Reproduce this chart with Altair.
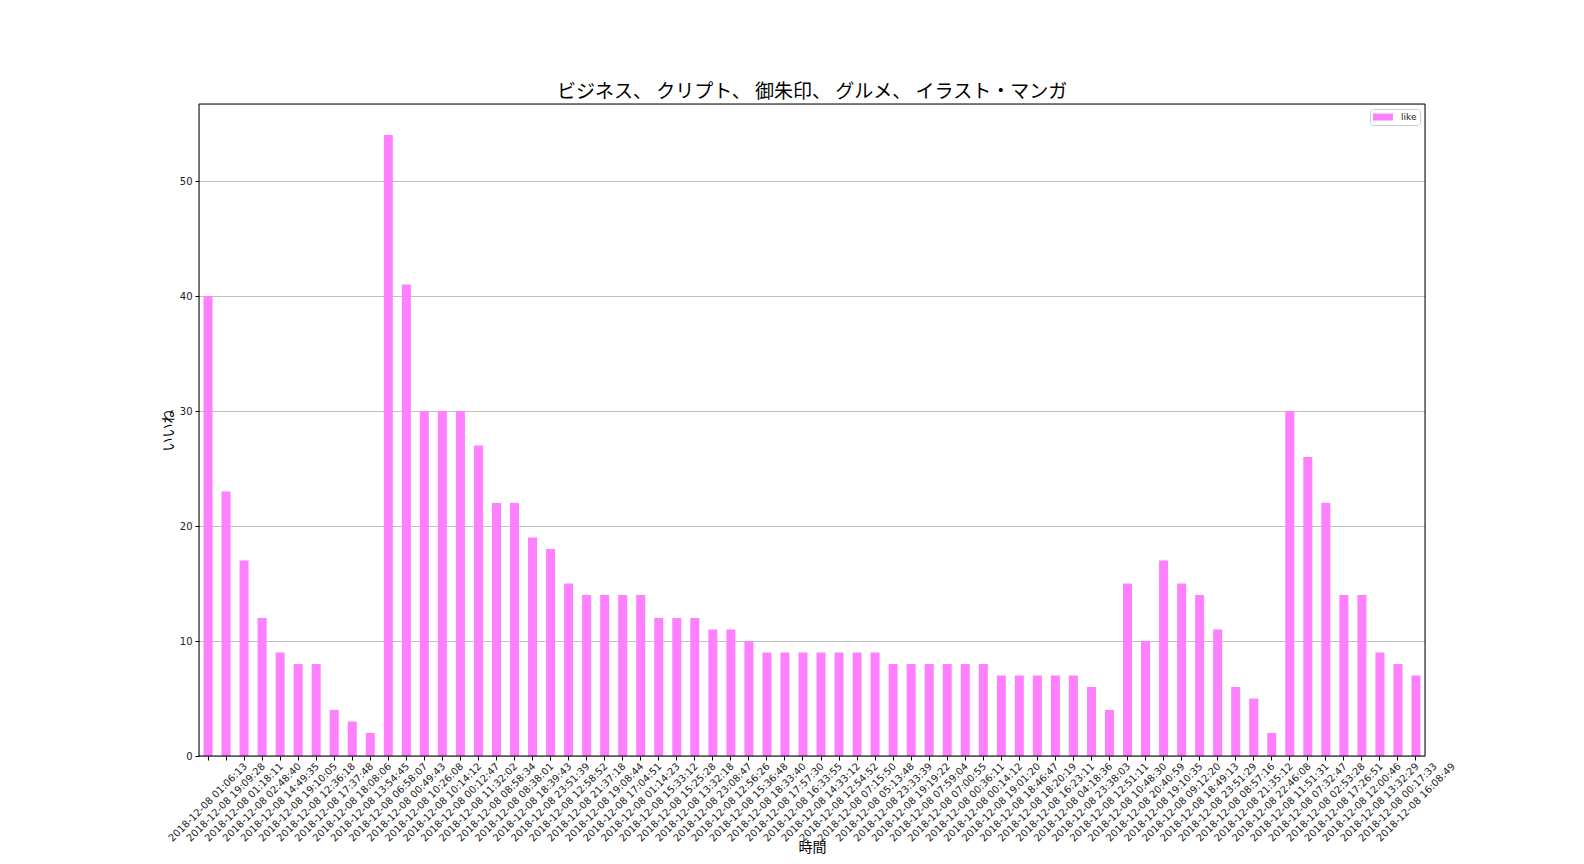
import altair as alt
import pandas as pd

times = [
    "2018-12-08 01:06:13", "2018-12-08 19:09:28", "2018-12-08 01:18:11", "2018-12-08 02:48:40",
    "2018-12-08 14:49:35", "2018-12-08 19:10:05", "2018-12-08 12:36:18", "2018-12-08 17:37:48",
    "2018-12-08 18:08:06", "2018-12-08 13:54:45", "2018-12-08 06:58:07", "2018-12-08 00:49:43",
    "2018-12-08 10:26:08", "2018-12-08 10:14:12", "2018-12-08 00:12:47", "2018-12-08 11:32:02",
    "2018-12-08 08:58:34", "2018-12-08 08:38:01", "2018-12-08 18:39:43", "2018-12-08 23:51:39",
    "2018-12-08 12:58:52", "2018-12-08 21:37:18", "2018-12-08 19:08:44", "2018-12-08 17:04:51",
    "2018-12-08 01:14:23", "2018-12-08 15:33:12", "2018-12-08 15:25:28", "2018-12-08 13:32:18",
    "2018-12-08 23:08:47", "2018-12-08 12:56:26", "2018-12-08 15:36:48", "2018-12-08 18:33:40",
    "2018-12-08 17:57:30", "2018-12-08 16:33:55", "2018-12-08 14:33:12", "2018-12-08 12:54:52",
    "2018-12-08 07:15:50", "2018-12-08 05:13:48", "2018-12-08 23:33:39", "2018-12-08 19:19:22",
    "2018-12-08 07:59:04", "2018-12-08 07:00:55", "2018-12-08 00:36:11", "2018-12-08 00:14:12",
    "2018-12-08 19:01:20", "2018-12-08 18:46:47", "2018-12-08 18:20:19", "2018-12-08 16:23:11",
    "2018-12-08 04:18:36", "2018-12-08 23:38:03", "2018-12-08 12:51:11", "2018-12-08 10:48:30",
    "2018-12-08 20:40:59", "2018-12-08 19:10:35", "2018-12-08 09:12:20", "2018-12-08 18:49:13",
    "2018-12-08 23:51:29", "2018-12-08 08:57:16", "2018-12-08 21:35:12", "2018-12-08 22:46:08",
    "2018-12-08 11:51:31", "2018-12-08 07:32:47", "2018-12-08 02:53:28", "2018-12-08 17:26:51",
    "2018-12-08 12:00:46", "2018-12-08 13:32:29", "2018-12-08 00:17:33", "2018-12-08 16:08:49",
]

likes = [
    40, 23, 17, 12, 9, 8, 8, 4, 3, 2,
    54, 41, 30, 30, 30, 27, 22, 22, 19, 18,
    15, 14, 14, 14, 14, 12, 12, 12, 11, 11,
    10, 9, 9, 9, 9, 9, 9, 9, 8, 8,
    8, 8, 8, 8, 7, 7, 7, 7, 7, 6,
    4, 15, 10, 17, 15, 14, 11, 6, 5, 2,
    30, 26, 22, 14, 14, 9, 8, 7,
]

series_name = "like"
title_text = "ビジネス、 クリプト、 御朱印、 グルメ、 イラスト・マンガ"
x_title = "時間"
y_title = "いいね"
y_ticks = [0, 10, 20, 30, 40, 50]

df = pd.DataFrame({"time": times, "like": likes, "series": [series_name] * len(times)})
frame_df = pd.DataFrame({"frame": [0]})

JP = "Noto Sans CJK JP"
LAT = "DejaVu Sans"
W, H = 1226, 652

bars = (
    alt.Chart(df)
    .mark_bar(color="#ff80ff")
    .encode(
        x=alt.X(
            "time:N",
            sort=None,
            scale=alt.Scale(paddingInner=0.5, paddingOuter=0.25),
            axis=alt.Axis(
                title=x_title,
                titleFont=JP,
                titleFontSize=14,
                titleFontWeight="normal",
                titleColor="black",
                titleY=91,
                titleBaseline="middle",
                labelAngle=-45,
                labelAlign="center",
                labelBaseline="middle",
                labelFont=LAT,
                labelFontSize=10,
                labelColor="#222222",
                labelPadding=42,
                labelOverlap=False,
                labelBound=False,
                labelFlush=False,
                tickSize=4,
                tickColor="black",
                domain=False,
                grid=False,
            ),
        ),
        y=alt.Y(
            "like:Q",
            scale=alt.Scale(domain=[0, 56.7], nice=False, zero=True),
            axis=alt.Axis(
                title=y_title,
                titleFont=JP,
                titleFontSize=14,
                titleFontWeight="normal",
                titleColor="black",
                titleX=-31,
                titleY=H / 2,
                titleAngle=-90,
                titleAlign="center",
                titleBaseline="middle",
                values=y_ticks,
                labelFont=LAT,
                labelFontSize=10,
                labelColor="#222222",
                labelPadding=3,
                tickSize=4,
                tickColor="black",
                domain=False,
                grid=True,
                gridColor="#b0b0b0",
                gridWidth=0.8,
            ),
        ),
        color=alt.Color(
            "series:N",
            scale=alt.Scale(range=["#ff80ff"]),
            legend=alt.Legend(
                title=None,
                orient="top-right",
                offset=5,
                symbolType="M-1,-0.7L3,-0.7L3,0.7L-1,0.7Z",
                symbolSize=100,
                symbolStrokeWidth=0,
                symbolOpacity=1,
                labelFont=LAT,
                labelFontSize=9,
                labelColor="#222222",
                labelOffset=18,
                fillColor="white",
                strokeColor="#cccccc",
                cornerRadius=3,
                padding=3,
            ),
        ),
    )
)

frame = (
    alt.Chart(frame_df)
    .mark_rect(filled=False, stroke="black", strokeWidth=1)
    .encode(
        x=alt.value(0),
        x2=alt.value(W),
        y=alt.value(0),
        y2=alt.value(H),
    )
)

chart = (
    alt.layer(bars, frame)
    .properties(
        width=W,
        height=H,
        title=alt.TitleParams(
            text=title_text,
            font=JP,
            fontSize=19,
            fontWeight="normal",
            color="black",
            anchor="middle",
            offset=2,
        ),
        autosize=alt.AutoSizeParams(type="none"),
        padding={"left": 191, "top": 96, "right": 140, "bottom": 100},
    )
    .configure_view(strokeWidth=0)
    .configure(background="white")
)

chart.save("out.html", embed_options={"renderer": "svg", "actions": False})
